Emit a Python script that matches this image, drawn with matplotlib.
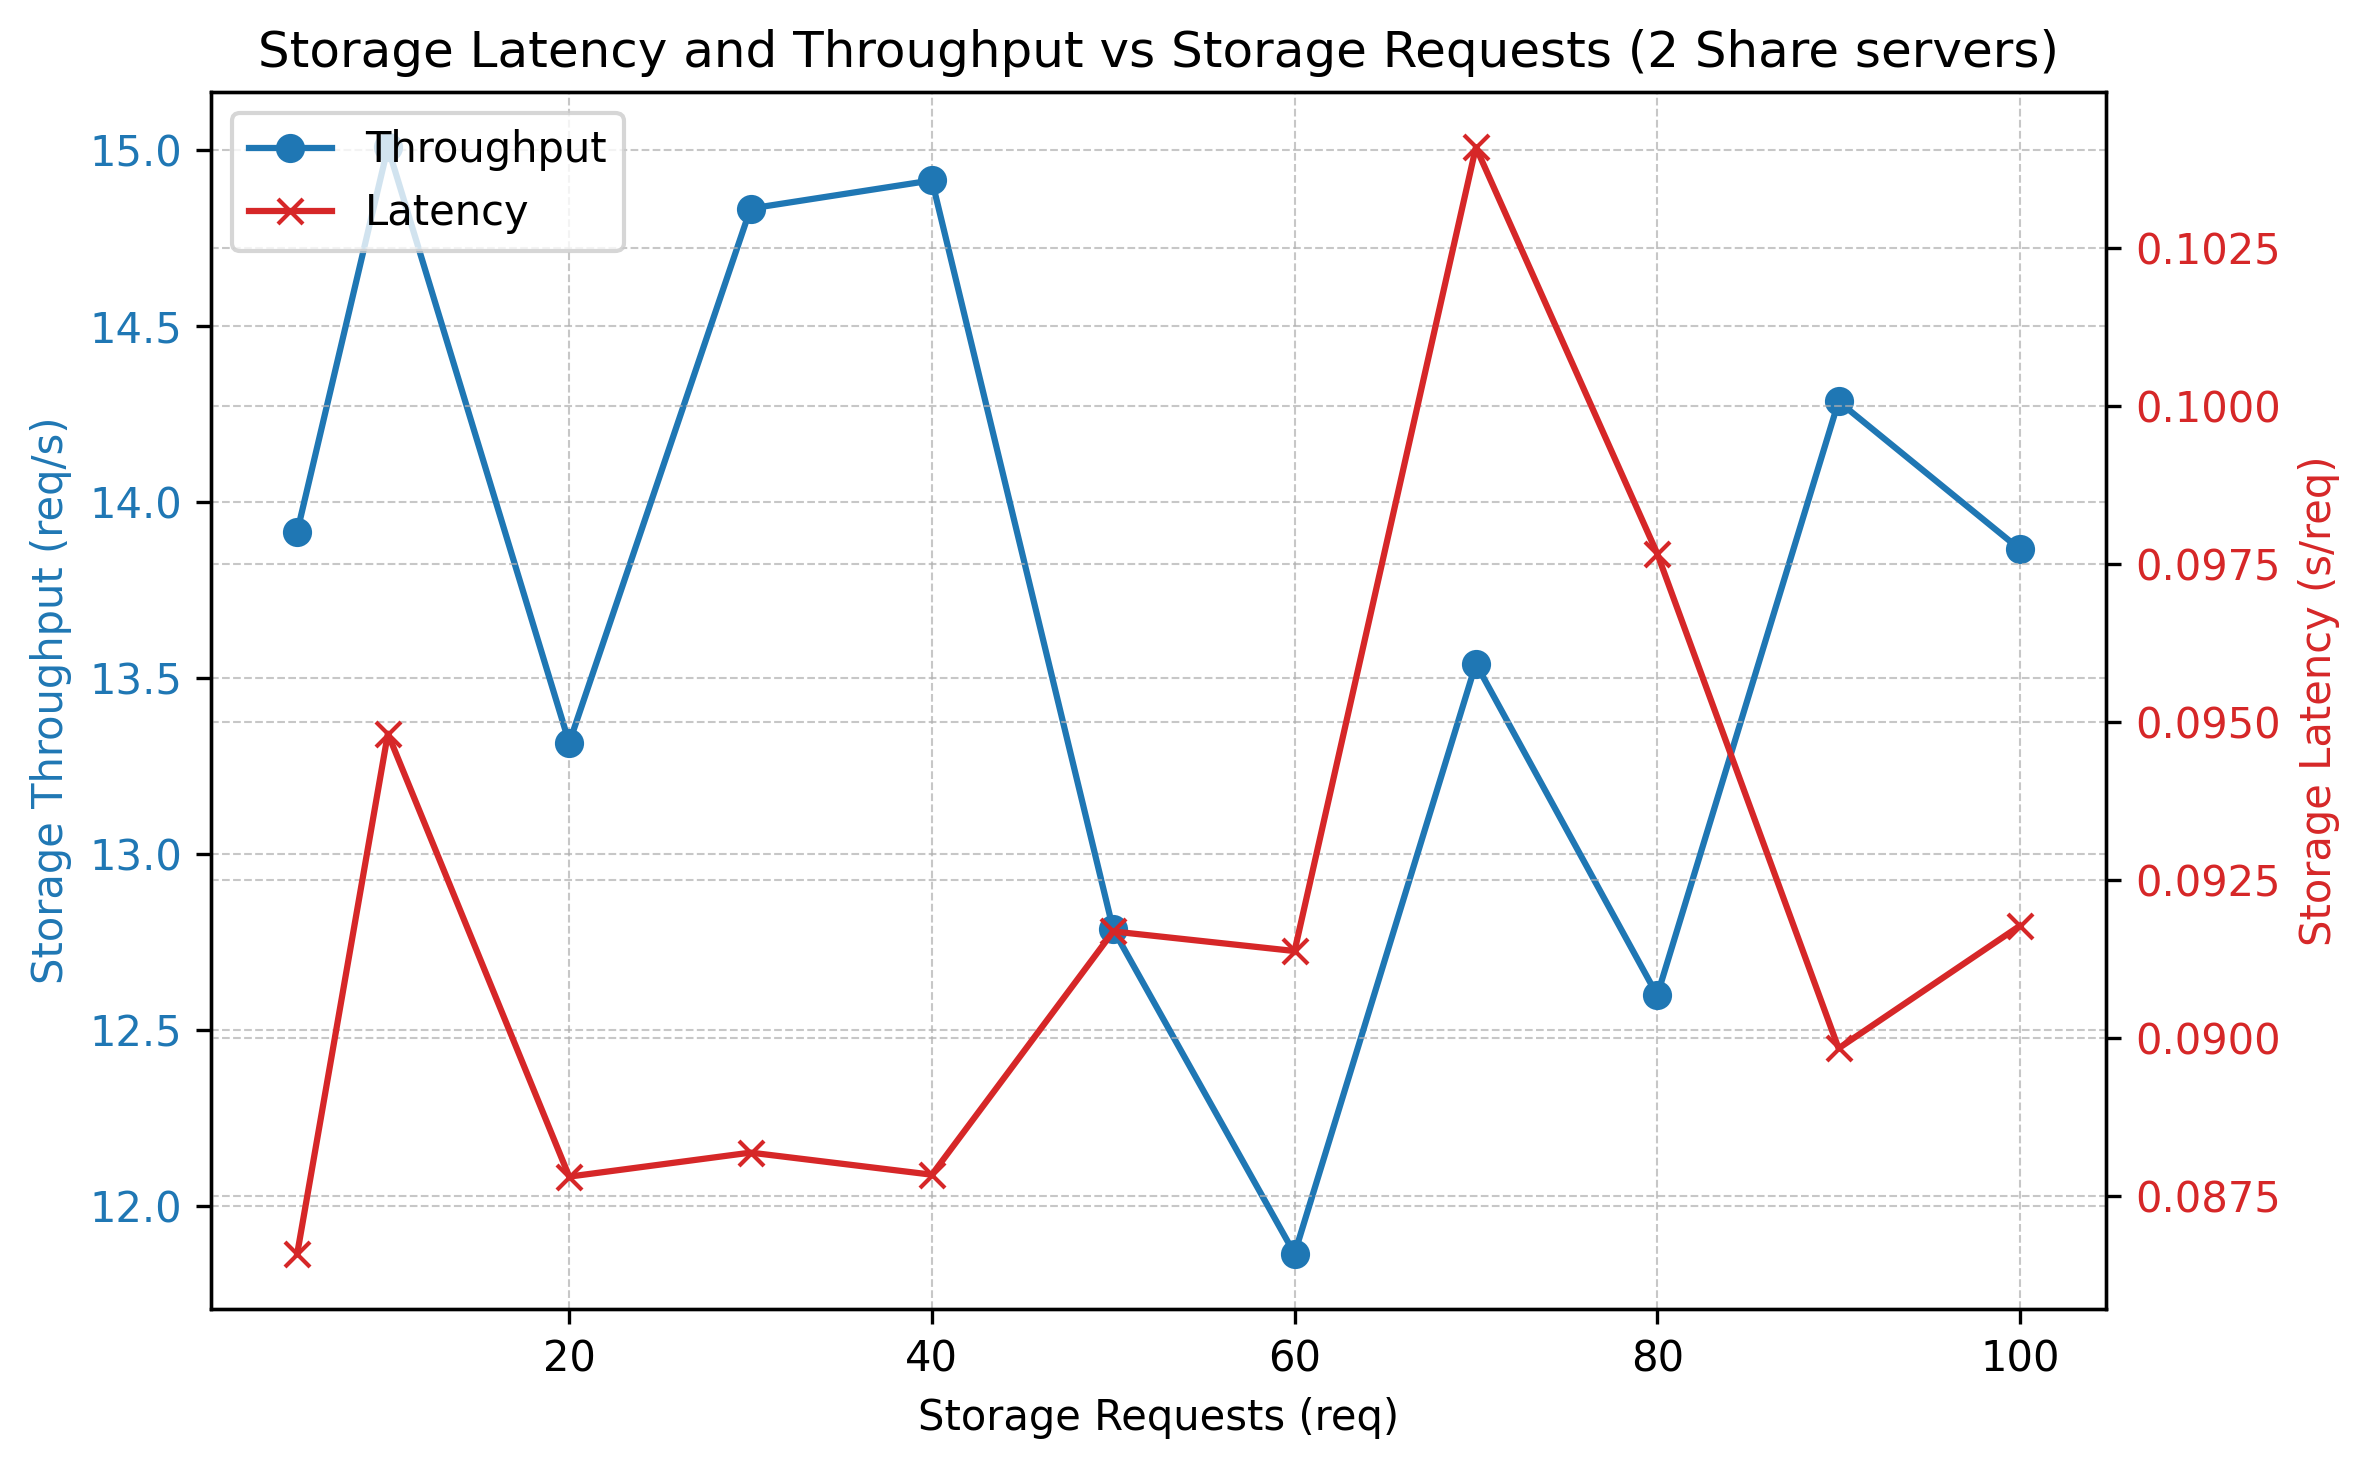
import matplotlib
matplotlib.use("Agg")
import matplotlib.pyplot as plt

requests = [5, 10, 20, 30, 40, 50, 60, 70, 80, 90, 100]
throughput = [13.915, 15.007, 13.315, 14.833, 14.913, 12.785, 11.864, 13.540, 12.598, 14.285, 13.865]
latency = [0.08659, 0.09482, 0.08781, 0.08819, 0.08784, 0.09169, 0.09138, 0.1041, 0.09767, 0.08984, 0.09178]

fig, ax1 = plt.subplots(figsize=(2369 / 300, 1469 / 300), dpi=300)
l1, = ax1.plot(requests, throughput, color='tab:blue', marker='o', label='Throughput')
ax1.set_xlabel('Storage Requests (req)')
ax1.set_ylabel('Storage Throughput (req/s)', color='tab:blue')
ax1.tick_params(axis='y', labelcolor='tab:blue')
ax1.grid(True, linestyle='--', linewidth=0.5, alpha=0.7)

ax2 = ax1.twinx()
l2, = ax2.plot(requests, latency, color='tab:red', marker='x', label='Latency')
ax2.set_ylabel('Storage Latency (s/req)', color='tab:red')
ax2.tick_params(axis='y', labelcolor='tab:red')
ax2.grid(True, linestyle='--', linewidth=0.5, alpha=0.7)

ax2.legend([l1, l2], ['Throughput', 'Latency'], loc='upper left')
ax1.set_title('Storage Latency and Throughput vs Storage Requests (2 Share servers)')
fig.subplots_adjust(left=0.0891, right=0.889, top=0.9374, bottom=0.1089)
fig.savefig('out.png', dpi=300)
